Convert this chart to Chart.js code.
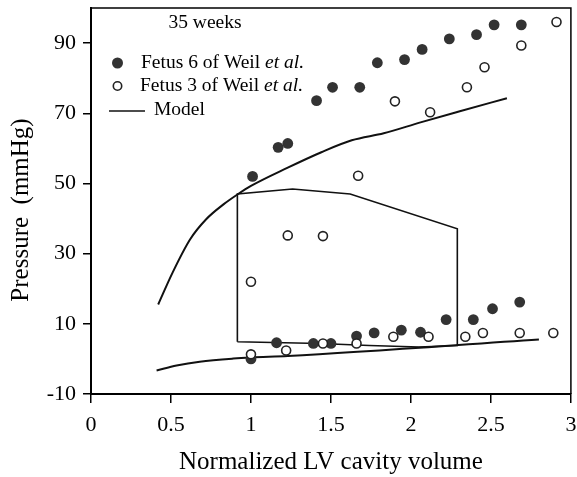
<!DOCTYPE html>
<html>
<head>
<meta charset="utf-8">
<title>35 weeks PV</title>
<script src="https://cdn.jsdelivr.net/npm/chart.js@4.4.1/dist/chart.umd.min.js"></script>
<style>
  html, body { margin: 0; padding: 0; background: #fff; }
  #wrap { width: 577px; height: 477px; }
</style>
</head>
<body>
<div id="wrap"><canvas id="pv"></canvas></div>
<script>
// Fetus 6 of Weil et al. (filled)
const fetus6X = [1.01, 1.17, 1.23, 1.41, 1.51, 1.68, 1.79, 1.96, 2.07, 2.24, 2.41, 2.52, 2.69,
                 1.0, 1.16, 1.39, 1.50, 1.66, 1.77, 1.94, 2.06, 2.22, 2.39, 2.51, 2.68]
const fetus6Y = [52, 60.3, 61.4, 73.6, 77.4, 77.4, 84.4, 85.3, 88.2, 91.2, 92.4, 95.2, 95.2,
                 0, 4.6, 4.4, 4.4, 6.5, 7.4, 8.2, 7.6, 11.2, 11.2, 14.3, 16.2]

// Fetus 3 of Weil et al. (open)
const fetus3X = [1.0, 1.23, 1.45, 1.67, 1.90, 2.12, 2.35, 2.46, 2.69, 2.91,
                 1.0, 1.22, 1.45, 1.66, 1.89, 2.11, 2.34, 2.45, 2.68, 2.89]
const fetus3Y = [22, 35.2, 35, 52.2, 73.4, 70.3, 77.4, 83.1, 89.3, 96,
                 1.3, 2.4, 4.4, 4.4, 6.3, 6.3, 6.3, 7.4, 7.4, 7.4]

// Model: end-systolic curve, PV loop, end-diastolic curve
const modelUpperX = [0.42, 0.51, 0.62, 0.72, 0.83, 0.92, 1.0, 1.23, 1.44, 1.63, 1.83, 2.06, 2.3, 2.6]
const modelUpperY = [15.5, 24.6, 34.1, 39.8, 44.1, 47, 49.3, 54.5, 58.9, 62.3, 64.3, 67.4, 70.5, 74.3]
const loopX = [0.915, 0.915, 1.26, 1.62, 2.29, 2.29, 2.05, 1.74, 1.43, 0.915]
const loopY = [4.9, 47, 48.4, 47, 37.1, 3.8, 3.4, 3.8, 4.4, 4.9]
const modelLowerX = [0.41, 0.535, 0.68, 0.89, 1.0, 1.23, 2.8]
const modelLowerY = [-3.3, -1.9, -0.8, 0.1, 0.4, 0.8, 5.5]

const xTicks = [0, 0.5, 1, 1.5, 2, 2.5, 3]
const yTicks = [-10, 10, 30, 50, 70, 90]

const toPts = (xs, ys) => xs.map((x, i) => ({ x: x, y: ys[i] }))
const serif = '"Liberation Serif", "Times New Roman", serif'
const dotColor = '#333'

// legend, y title + box frame
const framePlugin = {
  id: 'frame',
  afterDraw(chart) {
    const ctx = chart.ctx
    const a = chart.chartArea
    ctx.save()
    ctx.strokeStyle = '#000'
    ctx.lineWidth = 1.5
    ctx.beginPath()
    ctx.moveTo(a.left, a.top)
    ctx.lineTo(a.right, a.top)
    ctx.lineTo(a.right, a.bottom)
    ctx.stroke()

    // y axis title
    ctx.save()
    ctx.translate(21, 210)
    ctx.rotate(-Math.PI / 2)
    ctx.fillStyle = '#000'
    ctx.font = '25px ' + serif
    ctx.textAlign = 'center'
    ctx.textBaseline = 'middle'
    ctx.fillText('Pressure  (mmHg)', 0, 0)
    ctx.restore()

    ctx.fillStyle = '#000'
    ctx.textBaseline = 'middle'
    ctx.font = '19.5px ' + serif
    ctx.textAlign = 'center'
    ctx.fillText('35 weeks', 205, 23)
    ctx.textAlign = 'left'

    const rows = [
      { y: 63, label: 'Fetus 6 of Weil ', it: 'et al.', tx: 141 },
      { y: 86, label: 'Fetus 3 of Weil ', it: 'et al.', tx: 140 },
      { y: 110, label: 'Model', it: '', tx: 154 }
    ]
    rows.forEach((r, i) => {
      if (i === 0) {
        ctx.beginPath()
        ctx.arc(117.5, r.y, 5.5, 0, Math.PI * 2)
        ctx.fillStyle = dotColor
        ctx.fill()
      } else if (i === 1) {
        ctx.beginPath()
        ctx.arc(117.5, r.y, 4.2, 0, Math.PI * 2)
        ctx.lineWidth = 1.6
        ctx.strokeStyle = '#222'
        ctx.stroke()
      } else {
        ctx.beginPath()
        ctx.moveTo(109, r.y + 1)
        ctx.lineTo(145, r.y + 1)
        ctx.lineWidth = 1.6
        ctx.strokeStyle = '#111'
        ctx.stroke()
      }
      ctx.fillStyle = '#000'
      ctx.font = '19.5px ' + serif
      ctx.fillText(r.label, r.tx, r.y)
      if (r.it) {
        const w = ctx.measureText(r.label).width
        ctx.font = 'italic 19.5px ' + serif
        ctx.fillText(r.it, r.tx + w, r.y)
      }
    })
    ctx.restore()
  }
}

const lineStyle = {
  type: 'line',
  borderColor: '#111',
  borderWidth: 2,
  pointRadius: 0,
  fill: false,
  showLine: true
}

new Chart(document.getElementById('pv'), {
  type: 'scatter',
  data: {
    datasets: [
      {
        label: 'Fetus 3 of Weil et al.',
        data: toPts(fetus3X, fetus3Y),
        pointRadius: 4.5,
        pointBorderWidth: 1.6,
        pointBorderColor: '#222',
        pointBackgroundColor: '#fff'
      },
      {
        label: 'Fetus 6 of Weil et al.',
        data: toPts(fetus6X, fetus6Y),
        pointRadius: 5.4,
        pointBorderWidth: 0,
        pointBackgroundColor: dotColor
      },
      Object.assign({ label: 'Model ES', data: toPts(modelUpperX, modelUpperY), cubicInterpolationMode: 'monotone' }, lineStyle),
      Object.assign({ label: 'Model loop', data: toPts(loopX, loopY), tension: 0 }, lineStyle, { borderWidth: 1.6 }),
      Object.assign({ label: 'Model ED', data: toPts(modelLowerX, modelLowerY), cubicInterpolationMode: 'monotone' }, lineStyle)
    ]
  },
  options: {
    responsive: true,
    maintainAspectRatio: false,
    animation: false,
    layout: { padding: { top: 8, right: 6, left: 0, bottom: 0 } },
    plugins: {
      legend: { display: false },
      tooltip: { enabled: false }
    },
    scales: {
      x: {
        type: 'linear',
        min: 0,
        max: 3,
        afterBuildTicks: (s) => { s.ticks = xTicks.map(v => ({ value: v })) },
        afterFit: (s) => { s.height = 83; s.paddingLeft = 0; s.paddingRight = 0 },
        ticks: {
          color: '#000',
          font: { family: serif, size: 22 },
          padding: 9,
          maxRotation: 0,
          callback: (v) => String(v)
        },
        grid: { drawOnChartArea: false, drawTicks: true, tickLength: 9, color: '#000', lineWidth: 1.5 },
        border: { display: true, color: '#000', width: 2 },
        title: {
          display: true,
          text: 'Normalized LV cavity volume',
          color: '#000',
          font: { family: serif, size: 25 },
          padding: { top: 4, bottom: 0 }
        }
      },
      y: {
        type: 'linear',
        min: -10,
        max: 100,
        afterBuildTicks: (s) => { s.ticks = yTicks.map(v => ({ value: v })) },
        afterFit: (s) => { s.width = 91; s.paddingTop = 0; s.paddingBottom = 0 },
        ticks: {
          color: '#000',
          font: { family: serif, size: 22 },
          padding: 7,
          callback: (v) => String(v)
        },
        grid: { drawOnChartArea: false, drawTicks: true, tickLength: 8, color: '#000', lineWidth: 1.5 },
        border: { display: true, color: '#000', width: 2 },
        title: { display: false }
      }
    }
  },
  plugins: [framePlugin]
})
</script>
</body>
</html>
